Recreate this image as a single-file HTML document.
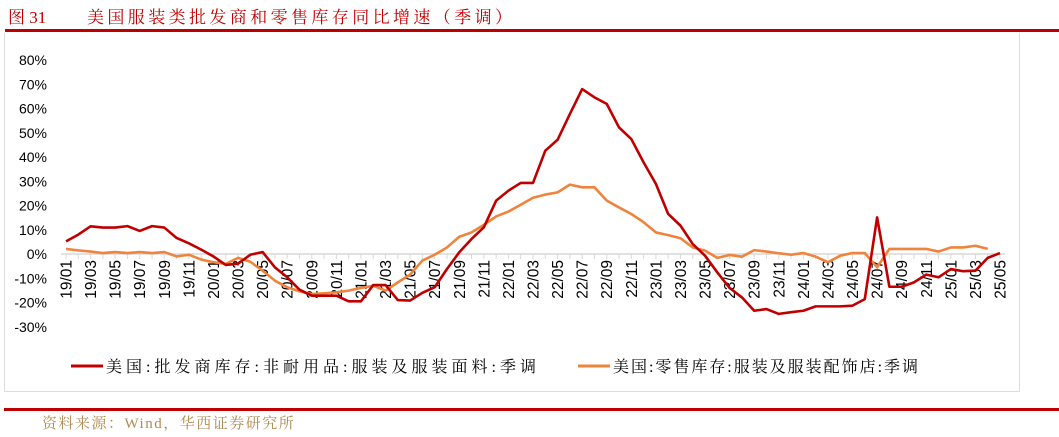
<!DOCTYPE html>
<html><head><meta charset="utf-8">
<style>
body{margin:0;background:#fff;width:1059px;height:437px;overflow:hidden;position:relative;font-family:"Liberation Sans","Noto Sans CJK SC",sans-serif;}
.title{position:absolute;top:3px;font:17px "Liberation Serif","Noto Serif CJK SC",serif;color:#c00000;white-space:nowrap;}
.src{position:absolute;left:42px;top:412px;font:15px "Liberation Serif","Noto Serif CJK SC",serif;color:#b08a50;letter-spacing:1.5px;white-space:nowrap;}
</style></head><body>
<div class="title" style="left:8px">图 31</div>
<div class="title" style="left:87px;letter-spacing:3.4px">美国服装类批发商和零售库存同比增速（季调）</div>
<div style="position:absolute;left:5px;top:29px;width:1054px;height:3px;background:#c00000"></div>
<div style="position:absolute;left:4px;top:33px;width:1014px;height:358px;border:1px solid #ddd;border-top:none"></div>
<svg id="chart" width="1059" height="437" style="position:absolute;left:0;top:0"></svg>
<div style="position:absolute;left:4px;top:408px;width:1055px;height:3px;background:#c00000"></div>
<div class="src">资料来源：Wind，华西证券研究所</div>
<script>
const labels=[];for(let y=19;y<=25;y++)for(let m=1;m<=12;m++){if(y==25&&m>5)break;labels.push(y+'/'+String(m).padStart(2,'0'));}
const yTicks=[80,70,60,50,40,30,20,10,0,-10,-20,-30];
const wholesale=[5.2,8,11.4,10.9,10.9,11.5,9.5,11.5,10.9,6.6,4.4,1.8,-1,-4.5,-4,-0.3,0.8,-5.5,-9.6,-14.7,-17.2,-17.2,-17.2,-19.5,-19.5,-12.8,-12.8,-19,-19.2,-16,-13.7,-6.2,0.7,6.2,11,22,26.1,29.3,29.3,42.6,47.1,57.7,68,64.6,61.9,52.2,47.4,37.8,28.9,16.5,11.7,4.1,-0.7,-7.6,-14,-17.9,-23.4,-22.7,-24.7,-24,-23.4,-21.6,-21.6,-21.6,-21.3,-18.6,15.1,-13.5,-13.5,-11.7,-8.5,-9.6,-6.2,-7.1,-6.9,-1.6,0.4];
const retail=[2.1,1.5,1,0.4,0.8,0.4,0.8,0.4,0.8,-1,-0.3,-2.3,-3.4,-4.1,-1.6,-3.2,-6.9,-11,-13.7,-15.4,-16.5,-16.2,-15.8,-15.1,-14,-13.1,-15.1,-11.7,-8.5,-2.7,-0.3,2.7,7.1,8.9,12,15.5,17.5,20.3,23.2,24.5,25.4,28.6,27.5,27.5,22,19.2,16.5,13.1,8.9,7.8,6.5,2.7,1.4,-1.6,-0.4,-1.1,1.6,1,0.3,-0.3,0.4,-1.1,-3.4,-0.7,0.4,0.4,-5.5,2.1,2.1,2.1,2.1,1,2.7,2.7,3.4,2.1];
const svg=document.getElementById('chart');const NS='http://www.w3.org/2000/svg';
const x0=66,x1=1000,n=labels.length;
const xs=i=>x0+(x1-x0)*i/(n-1);
const ys=v=>254-v*2.425;
function mk(t,a,p){const e=document.createElementNS(NS,t);for(const k in a)e.setAttribute(k,a[k]);(p||svg).appendChild(e);return e;}
yTicks.forEach(v=>{const t=mk('text',{x:47,y:ys(v)+5,'text-anchor':'end','font-size':14,fill:'#000'});


t.textContent=v+'%';});
const ax=mk('line',{x1:x0-5,x2:x1+5,y1:ys(0),y2:ys(0),stroke:'#d9d9d9','stroke-width':1.5});


labels.forEach((l,i)=>{mk('line',{x1:xs(i),x2:xs(i),y1:ys(0),y2:ys(0)+5,stroke:'#d9d9d9'});
if(i%2==0){const t=mk('text',{transform:`translate(${xs(i)+5.5},${ys(0)+6}) rotate(-90)`,'text-anchor':'end','font-size':15.5,fill:'#000'});


t.textContent=l;}});
function line(d,c,name){const p=mk('polyline',{points:d.map((v,i)=>xs(i)+','+ys(v)).join(' '),fill:'none',stroke:c,'stroke-width':2.6,'stroke-linejoin':'round'});

}
line(retail,'#f0843c','retail-inventory-line');
line(wholesale,'#c00000','wholesale-inventory-line');
function leg(x,c,txt,len,name){const g=mk('g',{});


mk('line',{x1:x,x2:x+32,y1:366,y2:366,stroke:c,'stroke-width':3},g);
const t=mk('text',{x:x+35,y:372,'font-size':16,fill:'#000',textLength:len,lengthAdjust:'spacing','font-family':'"Liberation Serif","Noto Serif CJK SC",serif'},g);t.textContent=txt;}
leg(71,'#c00000','美国:批发商库存:非耐用品:服装及服装面料:季调',430,'legend-wholesale');
leg(578,'#f0843c','美国:零售库存:服装及服装配饰店:季调',305,'legend-retail');
</script>
</body></html>
